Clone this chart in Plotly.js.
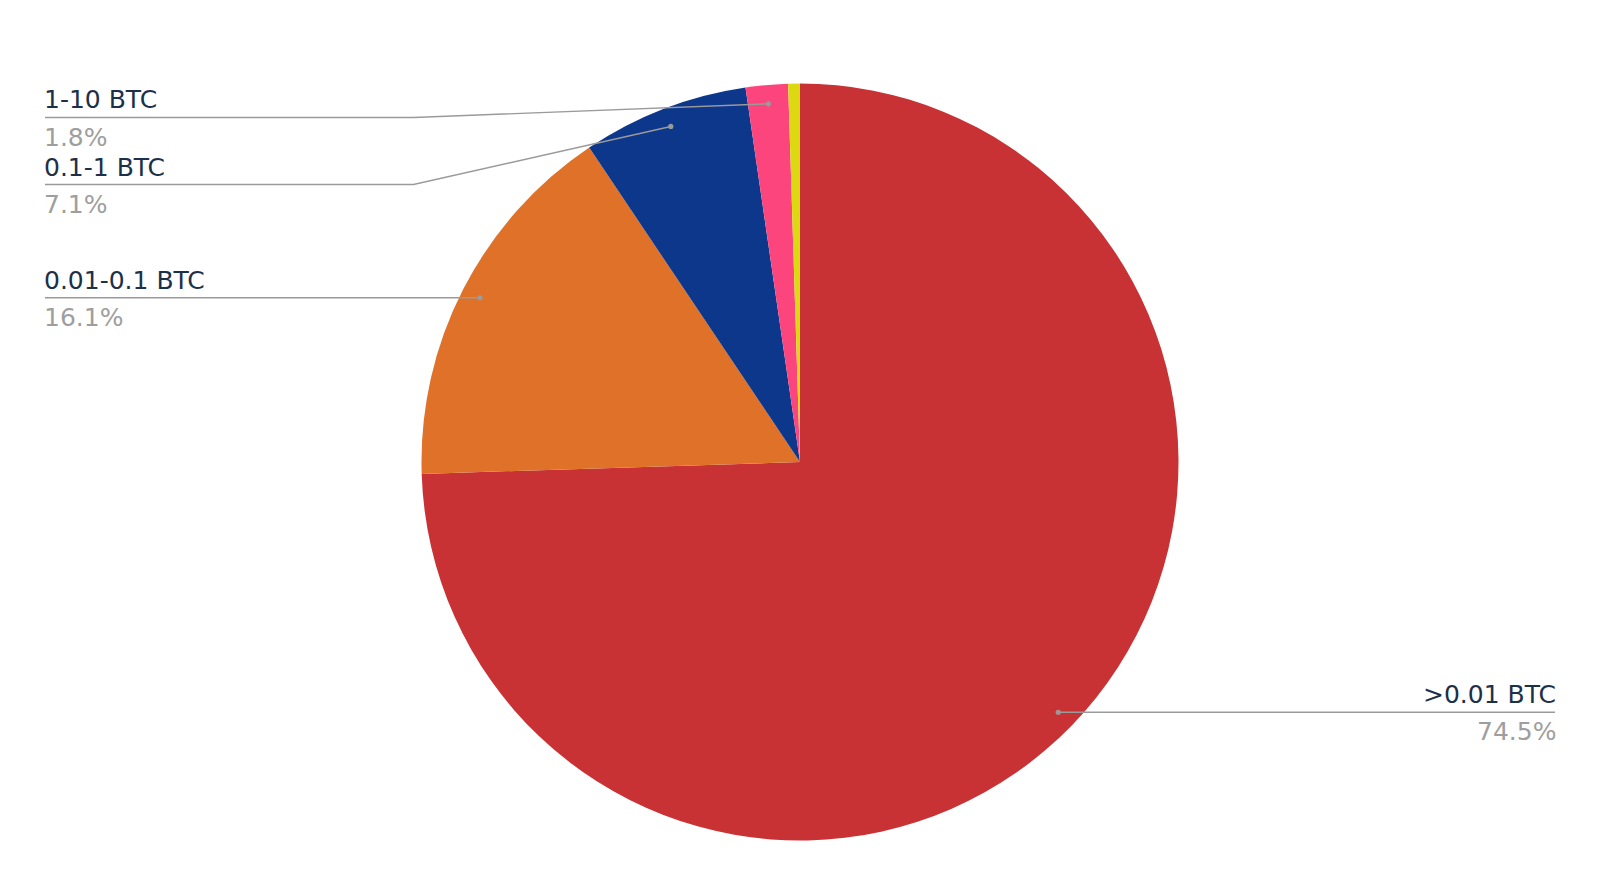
<!DOCTYPE html>
<html><head><meta charset="utf-8">
<script src="https://cdn.plot.ly/plotly-3.0.1.min.js"></script>
<style>html,body{margin:0;padding:0;background:#fff}#chart{width:1600px;height:885px}</style>
</head><body><div id="chart"></div>
<script>
// ---- data ----
const categories = ['>0.01 BTC', '0.01-0.1 BTC', '0.1-1 BTC', '1-10 BTC', '10+ BTC'];
const shares = [74.5, 16.1, 7.1, 1.8, 0.5];
const sliceColors = ['#c83234', '#e07128', '#0c378a', '#fd457d', '#dcd911'];

// ---- geometry (pixel space, margins 0) ----
const W = 1600, H = 885;
const cx = 800, cy = 462, R = 378.5;
const px = x => x / W, py = y => 1 - y / H;
const lineColor = '#9a9a9a';
const nameColor = '#1d3049';
const pctColor = '#9e9e9e';
const fontFam = 'DejaVu Sans, Verdana, sans-serif';
const fontSize = 25;

const total = shares.reduce((a, b) => a + b, 0);
let acc = 0;
const items = [];
shares.forEach((v, i) => {
  const mid = (acc + v / 2) / total * 2 * Math.PI; acc += v;
  items.push({
    i, v,
    dotX: cx + Math.sin(mid) * R * 0.95,
    dotY: cy - Math.cos(mid) * R * 0.95,
    left: Math.sin(mid) < 0
  });
});
const labeled = items.filter(d => d.v / total * 100 >= 1);
function place(arr, minTop) {
  arr.sort((a, b) => a.dotY - b.dotY);
  let prev = -Infinity;
  arr.forEach(d => { d.ly = Math.max(d.dotY, prev + 67, minTop); prev = d.ly; });
}
place(labeled.filter(d => d.left), 117.5);
place(labeled.filter(d => !d.left), 0);

const shapes = [], annotations = [];
const leftX = 45, rightX = 1555;
labeled.forEach(d => {
  const edgeX = d.left ? leftX : rightX;
  const bendX = d.left ? Math.min(cx - R - 8, d.dotX) : Math.max(cx + R + 8, d.dotX);
  shapes.push({
    type: 'path', xref: 'paper', yref: 'paper', layer: 'above',
    path: `M ${px(edgeX)},${py(d.ly)} L ${px(bendX)},${py(d.ly)} L ${px(d.dotX)},${py(d.dotY)}`,
    line: {color: lineColor, width: 1.4}
  });
  shapes.push({
    type: 'circle', xref: 'paper', yref: 'paper', layer: 'above',
    x0: px(d.dotX - 2.6), x1: px(d.dotX + 2.6), y0: py(d.dotY + 2.6), y1: py(d.dotY - 2.6),
    fillcolor: lineColor, line: {width: 0}
  });
  const anchor = d.left ? 'left' : 'right';
  const textX = d.left ? edgeX - 3 : edgeX + 3;
  annotations.push({
    xref: 'paper', yref: 'paper', x: px(textX), y: py(d.ly - 17.5), xanchor: anchor, yanchor: 'middle',
    text: categories[d.i], showarrow: false, font: {family: fontFam, size: fontSize, color: nameColor}
  });
  annotations.push({
    xref: 'paper', yref: 'paper', x: px(textX), y: py(d.ly + 19.5), xanchor: anchor, yanchor: 'middle',
    text: (d.v / total * 100).toFixed(1) + '%', showarrow: false, font: {family: fontFam, size: fontSize, color: pctColor}
  });
});

const trace = {
  type: 'pie',
  labels: categories,
  values: shares,
  marker: {colors: sliceColors, line: {width: 0}},
  sort: false,
  direction: 'clockwise',
  rotation: 0,
  textinfo: 'none',
  hoverinfo: 'label+percent',
  domain: {x: [px(cx - R), px(cx + R)], y: [py(cy + R), py(cy - R)]}
};

Plotly.newPlot('chart', [trace], {
  width: W, height: H,
  margin: {l: 0, r: 0, t: 0, b: 0},
  showlegend: false,
  paper_bgcolor: '#ffffff',
  shapes, annotations
}, {displayModeBar: false, staticPlot: true});
</script></body></html>
